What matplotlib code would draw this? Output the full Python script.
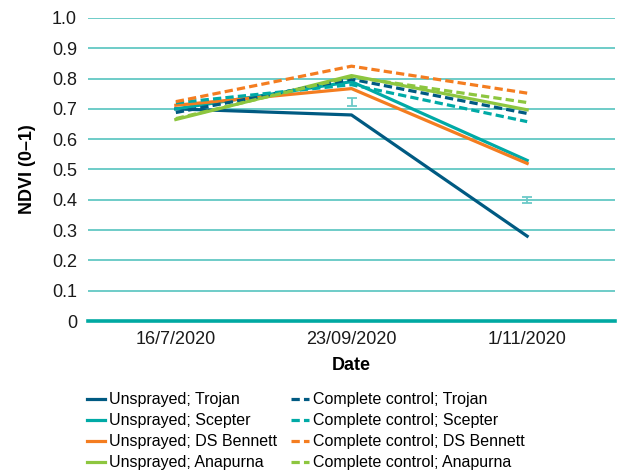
import matplotlib.pyplot as plt

plt.rcParams['font.family'] = ['Liberation Sans', 'DejaVu Sans']

# Sampling dates and NDVI readings per treatment
dates = ['16/7/2020', '23/09/2020', '1/11/2020']
varieties = ['Trojan', 'Scepter', 'DS Bennett', 'Anapurna']

unsprayed = {
    'Trojan': [0.70, 0.68, 0.28],
    'Scepter': [0.70, 0.79, 0.53],
    'DS Bennett': [0.712, 0.767, 0.52],
    'Anapurna': [0.665, 0.81, 0.697],
}
complete_control = {
    'Trojan': [0.688, 0.798, 0.685],
    'Scepter': [0.72, 0.78, 0.658],
    'DS Bennett': [0.724, 0.841, 0.752],
    'Anapurna': [0.668, 0.806, 0.721],
}

# LSD bars shown at the later two dates
err_pos = [1, 2]
err_mid = [0.723, 0.40]
err_half = [0.012, 0.01]

colors = {'Trojan': '#005a82', 'Scepter': '#00aaa6',
          'DS Bennett': '#f47d20', 'Anapurna': '#8dc63f'}

fs = 13

fig = plt.figure(figsize=(6.21, 4.73), dpi=100)
ax = fig.add_axes([88 / 621, 1 - 321 / 473, 527 / 621, 303 / 473])

x = list(range(len(dates)))

for v in varieties:
    ax.plot(x, unsprayed[v], color=colors[v], lw=2.3,
            label='Unsprayed; ' + v, zorder=3)
for v in varieties:
    ax.plot(x, complete_control[v], color=colors[v], lw=2.3,
            dashes=(2.6, 1.3), label='Complete control; ' + v, zorder=3)

ax.errorbar(err_pos, err_mid, yerr=err_half, fmt='none', ecolor='#6cc9c8',
            elinewidth=1.3, capsize=3.5, capthick=1.3, zorder=2)

ax.set_xlim(-0.5, 2.5)
ax.set_ylim(0, 1.0)
ax.set_yticks([i / 10 for i in range(11)])
ax.set_yticklabels(['0'] + ['%.1f' % (i / 10) for i in range(1, 11)])
ax.set_xticks(x)
ax.set_xticklabels(dates)
ax.tick_params(length=0, labelsize=fs, colors='#1a1a1a')
ax.tick_params(axis='y', pad=8)
ax.tick_params(axis='x', pad=7)

for s in ax.spines.values():
    s.set_visible(False)
ax.yaxis.grid(True, color='#62c8c4', lw=1.3)
ax.set_axisbelow(True)
ax.axhline(0, color='#00a9a2', lw=2.6, zorder=4, clip_on=False)

ax.set_ylabel('NDVI (0–1)', fontsize=fs, fontweight='bold', labelpad=11)
ax.set_xlabel('Date', fontsize=fs, fontweight='bold', labelpad=7)

fig.legend(loc='upper left', bbox_to_anchor=(0.1396, 0.171), ncol=2,
           frameon=False, fontsize=11.5, handlelength=1.15, handletextpad=0.25,
           columnspacing=0.85, labelspacing=0.38, borderpad=0,
           borderaxespad=0)

fig.savefig('out.png', dpi=100)
